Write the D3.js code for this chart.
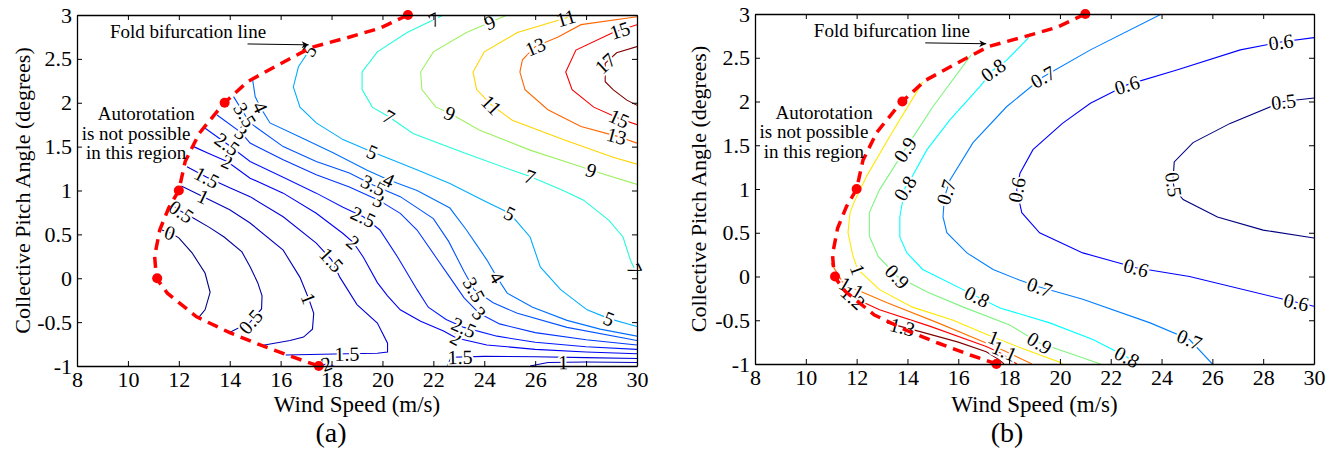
<!DOCTYPE html>
<html>
<head>
<meta charset="utf-8">
<script src="https://cdn.jsdelivr.net/npm/d3@7"></script>
<style>
  body { margin: 0; background: #fff; }
  text { font-family: "Liberation Serif", "Times New Roman", serif; }
</style>
</head>
<body>
<div class="chart"></div>
<script>
var svgWidth = 1340;
var svgHeight = 454;

// axis ticks
var xTicks = [8, 10, 12, 14, 16, 18, 20, 22, 24, 26, 28, 30];
var yTicks = [-1, -0.5, 0, 0.5, 1, 1.5, 2, 2.5, 3];

// fold bifurcation line (wind speed, pitch) - same in both panels
var foldLine = [[21, 3], [19.9, 2.85], [18.6, 2.74], [17.2, 2.63], [15.9, 2.43], [14.7, 2.24], [13.8, 2.0],
  [13.5, 1.9], [12.8, 1.65], [12.25, 1.33], [12, 1], [11.6, 0.8], [11.25, 0.55], [11.05, 0.25], [11.12, 0],
  [11.55, -0.17], [12.7, -0.44], [14, -0.62], [15.2, -0.76], [16.5, -0.9], [17.5, -1]];
var foldDots = [[21, 3], [13.8, 2], [12, 1], [11.15, 0], [17.5, -1]];

// panel (a): [level, points]
var contoursA = [
  [0, [[11.33, 0.55], [11.65, 0.52], [12.0, 0.46], [12.52, 0.29], [13.03, 0.06], [13.23, -0.16], [13.03, -0.36], [12.8, -0.44]]],
  [0.5, [[11.8, 0.82], [12.1, 0.76], [12.6, 0.68], [13.2, 0.58], [13.78, 0.47], [14.48, 0.3], [14.8, 0.13], [15.1, -0.05],
    [15.27, -0.2], [15.25, -0.35], [14.8, -0.5], [13.97, -0.62]]],
  [1, [[12.1, 1.05], [12.96, 0.93], [14.0, 0.78], [14.8, 0.63], [16.1, 0.32], [16.76, 0.01], [17.1, -0.23], [17.3, -0.4],
    [17.25, -0.58], [16.9, -0.67], [16.37, -0.71], [15.2, -0.77]]],
  [1.5, [[12.32, 1.27], [13.1, 1.15], [14.0, 1.03], [14.8, 0.93], [16.1, 0.7], [17.4, 0.4], [18.0, 0.21], [18.33, 0.01],
    [19.0, -0.3], [19.8, -0.51], [20.2, -0.74], [20.2, -0.84], [19.8, -0.855], [18.6, -0.86], [16.2, -0.875]]],
  [1.5, [[22.55, -1], [22.7, -0.9], [24, -0.89], [26, -0.895], [28, -0.905], [30, -0.915]]],
  [1, [[25.8, -1], [26.5, -0.96], [28, -0.955], [30, -0.96]]],
  [2, [[17.55, -1], [17.8, -0.975], [18.1, -1]]],
  [2, [[12.58, 1.5], [13.2, 1.42], [13.9, 1.33], [14.8, 1.14], [16.1, 0.97], [17.4, 0.74], [18.45, 0.51], [18.85, 0.41],
    [19.25, 0.24], [19.8, -0.05], [20.2, -0.2], [20.7, -0.36], [21.5, -0.49], [22.4, -0.6], [22.9, -0.68], [24.1, -0.76],
    [26, -0.81], [28, -0.84], [30, -0.86]]],
  [2.5, [[12.98, 1.72], [13.9, 1.53], [14.8, 1.33], [16.1, 1.15], [17.4, 0.97], [18.45, 0.81], [19.25, 0.7], [19.9, 0.55],
    [20.6, 0.24], [21.36, -0.13], [21.8, -0.33], [22.5, -0.47], [23.2, -0.56], [24.5, -0.66], [26, -0.73], [28, -0.78], [30, -0.81]]],
  [3, [[13.5, 1.86], [14.45, 1.66], [14.8, 1.54], [16.1, 1.35], [17.4, 1.18], [18.7, 1.04], [19.85, 0.89], [20.7, 0.74],
    [21.36, 0.55], [22.1, 0.24], [22.65, 0.01], [23.2, -0.22], [23.8, -0.4], [24.6, -0.52], [26, -0.62], [28, -0.7], [30, -0.76]]],
  [3.5, [[14.15, 2.07], [14.6, 1.86], [14.8, 1.77], [16.1, 1.5], [17.4, 1.33], [18.7, 1.2], [19.65, 1.06], [20.7, 0.93],
    [22.0, 0.68], [22.6, 0.42], [23.2, 0.08], [23.6, -0.13], [24.35, -0.28], [25.3, -0.4], [27.25, -0.56], [30, -0.71]]],
  [4, [[14.9, 2.26], [15.0, 2.07], [15.2, 1.95], [15.58, 1.77], [16.76, 1.61], [18.06, 1.43], [19.4, 1.23], [20.25, 1.12],
    [21.36, 1.0], [22.65, 0.8], [23.3, 0.55], [23.7, 0.38], [24.1, 0.21], [24.5, 0.01], [24.9, -0.17], [25.9, -0.33],
    [27.25, -0.48], [28.55, -0.58], [30, -0.66]]],
  [5, [[17.2, 2.63], [16.7, 2.41], [16.5, 2.18], [16.76, 1.95], [17.4, 1.77], [18.45, 1.58], [19.6, 1.44], [20.2, 1.37],
    [21.4, 1.23], [22.65, 1.08], [23.95, 0.89], [25.0, 0.74], [25.8, 0.47], [26.2, 0.13], [27.0, -0.13], [28.04, -0.36],
    [28.9, -0.46], [30, -0.55]]],
  [7, [[22.4, 3.0], [20.97, 2.8], [19.8, 2.58], [19.2, 2.35], [19.2, 2.15], [19.6, 1.95], [20.25, 1.84], [21.2, 1.65],
    [23.2, 1.43], [25.1, 1.23], [25.8, 1.16], [27.1, 1.0], [27.9, 0.89], [28.9, 0.66], [29.45, 0.47], [29.75, 0.2], [30, 0.05]]],
  [9, [[24.9, 3.0], [23.3, 2.8], [22.0, 2.58], [21.5, 2.35], [21.55, 2.15], [22.1, 1.95], [22.65, 1.88], [23.8, 1.69],
    [25.8, 1.46], [27.8, 1.27], [28.2, 1.23], [30, 1.07]]],
  [11, [[27.6, 3.0], [25.3, 2.8], [24.0, 2.58], [23.56, 2.35], [23.7, 2.15], [24.3, 1.97], [25.1, 1.8], [27.1, 1.58],
    [29.06, 1.38], [30, 1.3]]],
  [13, [[30, 2.98], [27.8, 2.89], [26.9, 2.75], [26.0, 2.64], [25.5, 2.49], [25.4, 2.35], [25.6, 2.15], [26.5, 1.92],
    [27.8, 1.73], [29.2, 1.62], [30, 1.54]]],
  [15, [[30, 2.89], [29.06, 2.8], [27.6, 2.6], [27.2, 2.35], [27.45, 2.15], [28.3, 1.95], [29.3, 1.82], [30, 1.75]]],
  [17, [[30, 2.64], [29.2, 2.57], [28.75, 2.45], [28.75, 2.24], [29.06, 2.15], [29.6, 2.03], [30, 1.97]]]
];

// [level, x, y]
var labelsA = [[0, 11.65, 0.52], [0.5, 12.1, 0.76], [0.5, 14.76, -0.48], [1, 12.96, 0.93], [1, 17.1, -0.23], [1, 27.1, -0.955],
  [1.5, 13.1, 1.15], [1.5, 18.0, 0.21], [1.5, 18.6, -0.86], [1.5, 23.05, -0.895], [2, 13.9, 1.33], [2, 18.85, 0.41],
  [2, 22.9, -0.68], [2, 17.8, -0.975], [2.5, 13.9, 1.53], [2.5, 19.25, 0.7], [2.5, 23.2, -0.56], [3, 14.45, 1.66],
  [3, 19.85, 0.89], [3, 23.8, -0.4], [3.5, 14.6, 1.86], [3.5, 19.65, 1.06], [3.5, 23.6, -0.13], [4, 15.2, 1.95],
  [4, 20.25, 1.12], [4, 24.5, 0.01], [5, 17.1, 2.6], [5, 19.6, 1.44], [5, 25.0, 0.74], [5, 28.9, -0.46], [7, 22.0, 2.96],
  [7, 20.25, 1.84], [7, 25.8, 1.16], [7, 29.9, 0.1], [9, 24.2, 2.93], [9, 22.65, 1.88], [9, 28.2, 1.23], [11, 27.2, 2.97],
  [11, 24.3, 1.98], [13, 26.0, 2.64], [13, 29.2, 1.62], [15, 29.3, 2.85], [15, 29.3, 1.82], [17, 28.75, 2.45]];

// panel (b)
var contoursB = [
  [0.5, [[30, 2.04], [28.8, 2.0], [26.7, 1.75], [25.24, 1.53], [24.5, 1.31], [24.45, 1.1], [24.5, 1.0], [24.85, 0.88],
    [26.2, 0.68], [28.0, 0.53], [30, 0.44]]],
  [0.6, [[30, 2.73], [28.7, 2.68], [27.1, 2.59], [24.6, 2.36], [22.64, 2.19], [21.2, 1.98], [20.1, 1.75], [18.94, 1.45],
    [18.43, 1.18], [18.3, 0.99], [18.5, 0.73], [19.2, 0.5], [20.9, 0.27], [23.0, 0.1], [25.1, 0.0], [28.8, -0.26], [30, -0.34]]],
  [0.7, [[24.0, 3.0], [21.2, 2.59], [19.33, 2.28], [17.9, 1.94], [16.58, 1.53], [15.67, 1.1], [15.45, 0.9], [15.4, 0.68],
    [15.55, 0.5], [16.34, 0.27], [17.37, 0.08], [18.4, -0.04], [19.2, -0.12], [20.9, -0.26], [23.55, -0.53], [25.1, -0.72],
    [26.0, -1.0]]],
  [0.8, [[18.82, 2.78], [18.74, 2.72], [17.9, 2.47], [17.37, 2.36], [16.85, 2.17], [15.67, 1.79], [14.77, 1.45],
    [14.18, 1.14], [13.9, 1.01], [13.7, 0.68], [13.7, 0.45], [13.98, 0.27], [14.6, 0.08], [16.74, -0.23], [17.64, -0.36],
    [19.6, -0.53], [21.3, -0.72], [22.64, -0.92], [23.0, -1.0]]],
  [0.9, [[16.5, 2.53], [15.0, 1.94], [13.9, 1.45], [12.9, 0.99], [12.5, 0.73], [12.5, 0.46], [12.85, 0.23], [13.6, 0.0],
    [14.8, -0.18], [16.2, -0.35], [18.0, -0.55], [19.2, -0.76], [20.8, -0.92], [21.6, -1.0]]],
  [1, [[14.6, 2.22], [14.49, 2.17], [13.3, 1.6], [12.4, 1.15], [11.9, 0.85], [11.74, 0.73], [11.66, 0.5], [11.86, 0.23],
    [12.05, 0.08], [12.9, -0.15], [14.2, -0.35], [15.8, -0.5], [17.1, -0.66], [18.5, -0.82], [20.0, -0.98], [20.1, -1]]],
  [1.1, [[11.0, 0.15], [11.46, -0.07], [11.82, -0.13], [13.2, -0.3], [15.2, -0.53], [17.1, -0.76], [17.9, -0.86], [18.9, -1.0]]],
  [1.2, [[11.4, -0.12], [11.86, -0.24], [12.9, -0.38], [14.9, -0.57], [17.1, -0.8], [17.64, -0.87], [18.3, -1.0]]],
  [1.3, [[13.2, -0.53], [14.5, -0.63], [16, -0.75], [17.1, -0.86], [17.6, -0.95], [17.8, -1.0]]]
];

var labelsB = [[0.5, 28.8, 2.0], [0.5, 24.45, 1.05], [0.6, 28.7, 2.68], [0.6, 22.64, 2.19], [0.6, 18.3, 0.99],
  [0.6, 23.0, 0.1], [0.6, 29.3, -0.3], [0.7, 19.33, 2.28], [0.7, 15.45, 0.97], [0.7, 19.2, -0.12], [0.7, 25.1, -0.72],
  [0.8, 17.37, 2.36], [0.8, 13.9, 1.01], [0.8, 16.74, -0.23], [0.8, 22.64, -0.92], [0.9, 13.9, 1.45], [0.9, 13.6, 0.0],
  [0.9, 19.2, -0.76], [1, 12.05, 0.08], [1, 17.4, -0.69], [1.1, 11.82, -0.12], [1.1, 17.8, -0.86], [1.2, 11.86, -0.24],
  [1.3, 13.8, -0.58]];

var panels = [
  { id: "a", left: 77, top: 15, right: 637, bottom: 366, contours: contoursA, labels: labelsA, cmin: 0, cmax: 17,
    yLabelX: 22, capX: 331, foldTextX: 12.36 },
  { id: "b", left: 755, top: 14, right: 1314, bottom: 364, contours: contoursB, labels: labelsB, cmin: 0.5, cmax: 1.3,
    yLabelX: 698, capX: 1007, foldTextX: 13.39 }
];

// MATLAB jet (yellow a touch deeper so it shows on white)
var jet = d3.scaleLinear()
  .domain([0, 0.125, 0.375, 0.625, 0.875, 1])
  .range(["#000080", "#0000ff", "#00ffff", "#ffe800", "#ff0000", "#800000"]);

var svg = d3.select(".chart")
  .append("svg")
  .attr("width", svgWidth)
  .attr("height", svgHeight)
  .style("background", "#fff");

var defs = svg.append("defs");
defs.append("marker")
  .attr("id", "arrow")
  .attr("viewBox", "0 0 10 10")
  .attr("refX", 10).attr("refY", 5)
  .attr("markerWidth", 9).attr("markerHeight", 7)
  .attr("markerUnits", "userSpaceOnUse")
  .attr("orient", "auto")
  .append("path")
  .attr("d", "M0,0 L10,5 L0,10 L3,5 Z")
  .attr("fill", "#000");

panels.forEach(function(p) {
  var x = d3.scaleLinear().domain([8, 30]).range([p.left, p.right]);
  var y = d3.scaleLinear().domain([-1, 3]).range([p.bottom, p.top]);
  var color = function(l) { return jet((l - p.cmin) / (p.cmax - p.cmin)); };
  var line = d3.line().x(d => x(d[0])).y(d => y(d[1]));

  defs.append("clipPath").attr("id", "clip-" + p.id)
    .append("rect")
    .attr("x", p.left).attr("y", p.top)
    .attr("width", p.right - p.left).attr("height", p.bottom - p.top);

  var g = svg.append("g");
  var plot = g.append("g").attr("clip-path", "url(#clip-" + p.id + ")");

  // contour lines
  plot.selectAll("path.contour")
    .data(p.contours)
    .enter()
    .append("path")
    .attr("class", "contour")
    .attr("d", d => line(d[1]))
    .attr("fill", "none")
    .attr("stroke", d => color(d[0]))
    .attr("stroke-width", 1.1);

  // contour labels, rotated along the nearest segment of their line
  p.labels.forEach(function(lb) {
    var px = x(lb[1]), py = y(lb[2]);
    var best = null;
    p.contours.filter(c => c[0] === lb[0]).forEach(function(c) {
      var pts = c[1].map(d => [x(d[0]), y(d[1])]);
      for (var i = 0; i < pts.length - 1; i++) {
        var ax = pts[i][0], ay = pts[i][1], bx = pts[i + 1][0], by = pts[i + 1][1];
        var dx = bx - ax, dy = by - ay;
        var t = Math.max(0, Math.min(1, ((px - ax) * dx + (py - ay) * dy) / (dx * dx + dy * dy)));
        var qx = ax + t * dx, qy = ay + t * dy;
        var dist = Math.hypot(px - qx, py - qy);
        if (!best || dist < best.dist) best = { dist: dist, x: qx, y: qy, ang: Math.atan2(dy, dx) * 180 / Math.PI };
      }
    });
    var ang = best.ang;
    if (ang > 90) ang -= 180;
    if (ang < -90) ang += 180;
    g.append("text")
      .attr("transform", `translate(${best.x},${best.y}) rotate(${ang})`)
      .attr("text-anchor", "middle")
      .attr("dy", "0.35em")
      .style("font-size", "20px")
      .style("fill", "#000")
      .style("stroke", "#fff")
      .style("stroke-width", 4)
      .style("paint-order", "stroke")
      .text(String(lb[0]));
  });

  // fold bifurcation line
  g.append("path")
    .attr("d", line(foldLine))
    .attr("fill", "none")
    .attr("stroke", "#ff0000")
    .attr("stroke-width", 3.5)
    .attr("stroke-dasharray", "11,7");

  g.selectAll("circle.dot")
    .data(foldDots)
    .enter()
    .append("circle")
    .attr("cx", d => x(d[0]))
    .attr("cy", d => y(d[1]))
    .attr("r", 5)
    .attr("fill", "#ff0000");

  // axes, ticks inward on all sides
  var fmt = d => String(d);
  var axB = g.append("g").attr("transform", `translate(0,${p.bottom})`)
    .call(d3.axisBottom(x).tickValues(xTicks).tickSize(-5).tickSizeOuter(0).tickPadding(5).tickFormat(fmt));
  var axL = g.append("g").attr("transform", `translate(${p.left},0)`)
    .call(d3.axisLeft(y).tickValues(yTicks).tickSize(-5).tickSizeOuter(0).tickPadding(5).tickFormat(fmt));
  var axT = g.append("g").attr("transform", `translate(0,${p.top})`)
    .call(d3.axisTop(x).tickValues(xTicks).tickSize(-5).tickSizeOuter(0).tickFormat(""));
  var axR = g.append("g").attr("transform", `translate(${p.right},0)`)
    .call(d3.axisRight(y).tickValues(yTicks).tickSize(-5).tickSizeOuter(0).tickFormat(""));

  [axB, axL, axT, axR].forEach(function(a) {
    a.select(".domain").attr("stroke", "#000").attr("stroke-width", 1.3);
    a.selectAll(".tick line").attr("stroke", "#000");
    a.selectAll("text")
      .style("font-family", "'Liberation Serif', 'Times New Roman', serif")
      .style("font-size", "22px")
      .attr("fill", "#000");
  });

  // axis titles
  g.append("text")
    .attr("transform", `translate(${p.yLabelX},${(p.top + p.bottom) / 2}) rotate(-90)`)
    .attr("text-anchor", "middle")
    .attr("dy", "0.35em")
    .style("font-size", "22px")
    .text("Collective Pitch Angle (degrees)");

  g.append("text")
    .attr("x", (p.left + p.right) / 2)
    .attr("y", 412)
    .attr("text-anchor", "middle")
    .style("font-size", "23px")
    .text("Wind Speed (m/s)");

  g.append("text")
    .attr("x", p.capX)
    .attr("y", 442)
    .attr("text-anchor", "middle")
    .style("font-size", "28px")
    .text("(" + p.id + ")");

  // annotations
  g.append("text")
    .attr("x", x(p.foldTextX))
    .attr("y", y(2.74))
    .attr("text-anchor", "middle")
    .style("font-size", "19px")
    .text("Fold bifurcation line");

  g.append("line")
    .attr("x1", x(14.7)).attr("y1", y(2.67))
    .attr("x2", x(17.1)).attr("y2", y(2.66))
    .attr("stroke", "#000")
    .attr("stroke-width", 1)
    .attr("marker-end", "url(#arrow)");

  var note = g.append("text").attr("text-anchor", "middle").style("font-size", "19px");
  note.append("tspan").attr("x", x(10.72)).attr("y", y(1.8)).text("Autorotation");
  note.append("tspan").attr("x", x(10.32)).attr("y", y(1.58)).text("is not possible");
  note.append("tspan").attr("x", x(10.32)).attr("y", y(1.36)).text("in this region");
});
</script>
</body>
</html>
